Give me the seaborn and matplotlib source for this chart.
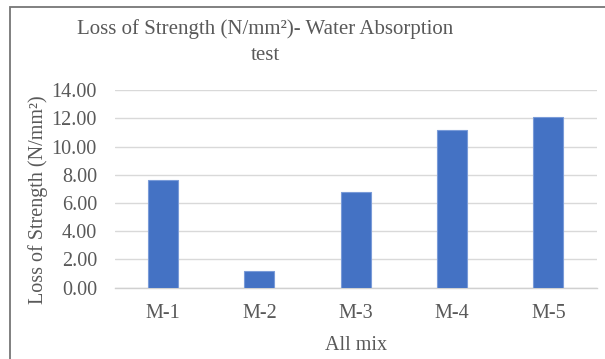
import matplotlib
matplotlib.use("Agg")
import matplotlib.pyplot as plt
from matplotlib.patches import Rectangle
import seaborn as sns
import pandas as pd

# Loss of strength per mix after the water absorption test
mixes = ["M-1", "M-2", "M-3", "M-4", "M-5"]
loss_of_strength = [7.62, 1.18, 6.80, 11.18, 12.08]
y_ticks = [0, 2, 4, 6, 8, 10, 12, 14]

df = pd.DataFrame({"mix": mixes, "loss": loss_of_strength})

sns.set_theme(style="white")
plt.rcParams["font.family"] = ["Liberation Serif", "DejaVu Serif"]
text_color = "#595959"

fig = plt.figure(figsize=(6.05, 3.59), dpi=100)
ax = fig.add_axes([0.190, 0.1986, 0.796, 0.5504])

sns.barplot(data=df, x="mix", y="loss", color="#4472C4", saturation=1,
            width=0.31, edgecolor="#7A9BD8", linewidth=0.8, ax=ax, zorder=3)

ax.set_ylim(0, 14)
ax.set_yticks(y_ticks)
ax.set_yticklabels([f"{v:.2f}" for v in y_ticks])
ax.grid(axis="y", color="#D9D9D9", linewidth=1.0, zorder=0)
ax.set_axisbelow(True)
for side in ["left", "right", "top"]:
    ax.spines[side].set_visible(False)
ax.spines["bottom"].set_color("#D0D0D0")
ax.spines["bottom"].set_linewidth(1.0)
ax.tick_params(axis="both", length=0, labelsize=14.5, colors=text_color)
ax.tick_params(axis="y", pad=13)
ax.tick_params(axis="x", pad=12)

ax.set_xlabel("All mix", fontsize=14.5, color=text_color, labelpad=9)
ax.set_ylabel("Loss of Strength (N/mm²)", fontsize=14.5, color=text_color)
ax.yaxis.set_label_coords(-67 / 482, 0.445)

fig.text(265 / 605, 1 - 29 / 359, "Loss of Strength (N/mm²)- Water Absorption",
         ha="center", va="center", fontsize=15, color=text_color)
fig.text(265 / 605, 1 - 56 / 359, "test",
         ha="center", va="center", fontsize=15, color=text_color)

# chart frame
fig.patches.append(Rectangle((10 / 605, -0.1), 1.2, 1.1 - 7 / 359,
                             transform=fig.transFigure, fill=False,
                             edgecolor="#767676", linewidth=1.3))

fig.savefig("out.png", dpi=100)
